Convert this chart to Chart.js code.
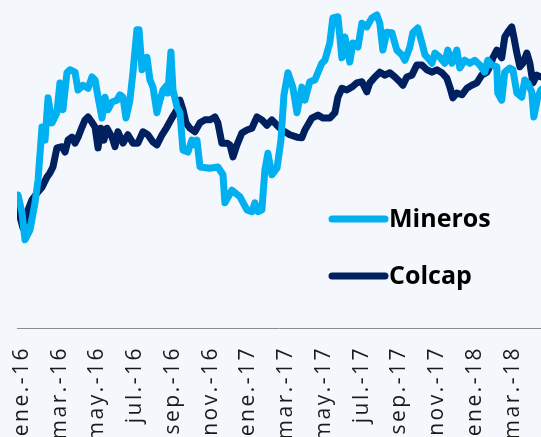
<!DOCTYPE html>
<html>
<head>
<meta charset="utf-8">
<script src="https://cdn.jsdelivr.net/npm/chart.js@4"></script>
<style>
  html, body { margin: 0; padding: 0; background: #f4f8fc; overflow: hidden; }
  #wrap { position: relative; width: 541px; height: 437px; }
</style>
</head>
<body>
<div id="wrap"><canvas id="c" width="541" height="437"></canvas></div>
<script>
// Month offsets from ene.-16 (0 = start of January 2016)
const tickMonths = [0, 2, 4, 6, 8, 10, 12, 14, 16, 18, 20, 22, 24, 26];
const tickLabels = ['ene.-16','mar.-16','may.-16','jul.-16','sep.-16','nov.-16','ene.-17','mar.-17','may.-17','jul.-17','sep.-17','nov.-17','ene.-18','mar.-18'];
const seriesNames = ['Mineros', 'Colcap'];

const minerosT = [-0.21,0,0.16,0.42,0.69,0.85,1.06,1.22,1.38,1.59,1.85,2.01,2.17,2.38,2.54,2.81,2.97,3.23,3.50,3.71,3.87,4.03,4.24,4.40,4.56,4.77,5.03,5.19,5.35,5.51,5.72,5.88,6.09,6.20,6.36,6.62,6.78,6.94,7.15,7.31,7.47,7.68,7.73,7.89,8.00,8.21,8.37,8.53,8.79,9.00,9.16,9.27,9.43,9.96,10.38,10.65,10.75,11.12,11.55,11.92,12.18,12.34,12.50,12.71,12.87,13.03,13.24,13.51,13.72,13.88,14.09,14.35,14.57,14.83,14.99,15.25,15.52,15.89,16.05,16.31,16.47,16.74,16.95,17.11,17.37,17.53,17.80,18.01,18.27,18.54,18.80,18.96,19.12,19.33,19.60,19.86,20.13,20.29,20.55,20.71,20.97,21.19,21.35,21.50,21.72,21.88,22.14,22.40,22.56,22.78,23.04,23.20,23.46,23.73,23.99,24.26,24.52,24.68,24.89,25.16,25.21,25.42,25.58,25.85,26.01,26.22,26.48,26.64,26.80,27.01,27.12,27.33,27.49,27.65];
const minerosV = [102.3,99.3,94.8,96.4,101.0,104.8,113.7,111.5,118.6,114.4,116.1,121.1,116.6,122.8,123.3,122.9,119.9,120.7,120.2,122.1,121.6,118.7,115.2,118.7,116.6,117.9,118.2,119.1,118.7,115.2,118.2,122.9,130.0,130.0,123.3,125.4,121.6,120.4,116.1,118.2,119.9,120.7,119.4,126.3,119.9,117.1,116.1,109.8,109.5,111.5,110.7,111.5,107.0,106.8,107.0,105.7,101.0,103.1,102.0,99.8,99.5,101.0,99.5,99.8,106.5,109.3,105.7,106.8,111.5,119.1,122.8,120.4,116.1,120.4,118.2,121.3,121.6,124.4,124.9,127.8,132.0,132.2,125.3,128.8,124.6,127.8,127.1,131.1,130.5,132.0,132.5,131.1,126.6,129.6,129.5,126.6,125.8,124.9,127.1,129.5,130.3,127.8,125.8,125.3,124.4,126.1,125.4,124.4,126.6,124.4,126.6,123.6,124.9,124.4,124.9,124.1,122.9,124.9,124.1,123.8,119.4,118.2,122.9,123.6,123.3,119.4,118.7,121.6,121.1,119.6,115.4,118.7,119.9,120.3];

const colcapT = [-0.21,0.05,0.32,0.53,0.79,1.06,1.32,1.48,1.64,1.85,2.12,2.28,2.44,2.65,2.81,2.97,3.18,3.34,3.50,3.71,3.87,4.03,4.18,4.34,4.50,4.77,4.93,5.08,5.35,5.61,5.88,6.14,6.41,6.67,6.94,7.15,7.42,7.68,7.94,8.21,8.37,8.53,8.69,8.90,9.16,9.43,9.69,9.96,10.22,10.38,10.59,10.86,11.02,11.18,11.39,11.65,11.92,12.18,12.45,12.71,12.98,13.24,13.51,13.77,13.93,14.19,14.57,14.83,14.99,15.36,15.68,15.94,16.31,16.58,16.74,16.95,17.21,17.48,17.74,18.01,18.27,18.43,18.70,18.96,19.23,19.49,19.76,20.02,20.18,20.39,20.66,20.92,21.19,21.45,21.72,21.98,22.25,22.51,22.67,22.83,23.04,23.31,23.57,23.83,24.10,24.36,24.63,24.79,24.95,25.16,25.42,25.58,25.74,25.95,26.06,26.22,26.38,26.54,26.75,26.91,27.07,27.28,27.49,27.65];
const colcapV = [99.8,96.8,99.8,101.5,102.6,103.6,105.3,106.0,107.0,110.2,110.4,109.5,111.5,112.0,111.0,112.0,113.7,114.9,115.4,114.5,113.7,110.2,113.5,111.5,113.5,112.0,110.4,112.9,111.0,112.4,111.0,111.0,112.9,112.4,111.2,110.7,112.4,113.7,115.2,116.6,118.2,116.6,114.4,113.5,112.9,114.4,114.9,114.9,115.4,114.4,111.0,111.0,110.7,108.7,110.7,112.7,113.2,113.5,115.4,114.9,114.0,114.9,114.0,113.2,112.9,112.4,112.0,111.9,113.2,115.2,115.7,115.2,115.2,116.1,118.7,120.2,119.9,120.4,121.1,121.3,119.6,121.1,122.1,122.9,122.4,122.8,122.1,121.3,120.7,122.1,122.4,124.1,124.1,123.3,122.9,123.3,122.8,121.9,120.4,118.6,119.4,119.1,120.2,120.7,121.1,122.4,122.9,123.8,125.3,126.6,125.3,128.8,129.6,130.5,128.8,126.1,123.8,124.4,126.1,124.4,121.1,122.4,122.1,122.3];

const colors = ['#00b0f0', '#002060'];

function pts(t, v) { return t.map((x, i) => ({ x: x, y: v[i] })); }

const spacingPlugin = {
  id: 'tickSpacing',
  beforeDraw(chart) { chart.ctx.letterSpacing = '2.5px'; }
};

const legendPlugin = {
  id: 'insideLegend',
  afterDraw(chart) {
    const ctx = chart.ctx;
    ctx.letterSpacing = '0px';
    const items = [{ y: 219 }, { y: 276 }];
    ctx.save();
    chart.data.datasets.forEach((ds, i) => {
      const y = items[i].y;
      ctx.strokeStyle = ds.borderColor;
      ctx.lineWidth = 7;
      ctx.lineCap = 'round';
      ctx.beginPath();
      ctx.moveTo(332, y);
      ctx.lineTo(385, y);
      ctx.stroke();
      ctx.fillStyle = '#000000';
      ctx.font = 'bold 25px "Open Sans"';
      ctx.textBaseline = 'middle';
      ctx.textAlign = 'left';
      ctx.fillText(ds.label, 389, y + 1);
    });
    ctx.restore();
  }
};

new Chart(document.getElementById('c'), {
  type: 'line',
  data: {
    datasets: [
      { label: seriesNames[0], data: pts(minerosT, minerosV), borderColor: colors[0], backgroundColor: colors[0] },
      { label: seriesNames[1], data: pts(colcapT, colcapV), borderColor: colors[1], backgroundColor: colors[1] }
    ]
  },
  options: {
    responsive: false,
    animation: false,
    layout: { padding: { left: 17, right: 0, top: 0, bottom: 0 } },
    elements: {
      point: { radius: 0 },
      line: { borderWidth: 7, tension: 0, borderCapStyle: 'round', borderJoinStyle: 'round' }
    },
    plugins: { legend: { display: false }, tooltip: { enabled: false } },
    scales: {
      x: {
        type: 'linear',
        min: -0.265,
        max: 27.5,
        grid: { display: false, drawTicks: false },
        border: { display: true, color: '#8c8c8c', width: 1 },
        afterBuildTicks(scale) { scale.ticks = tickMonths.map(v => ({ value: v })); },
        afterFit(scale) { scale.height = 109; scale.paddingLeft = 0; scale.paddingRight = 0; },
        ticks: {
          autoSkip: false,
          minRotation: 90,
          maxRotation: 90,
          padding: 18,
          color: '#1a1a1a',
          font: { family: '"Open Sans"', size: 21 },
          callback(value) { const i = tickMonths.indexOf(value); return i >= 0 ? tickLabels[i] : ''; }
        }
      },
      y: { display: false, min: 80, max: 135 }
    }
  },
  plugins: [spacingPlugin, legendPlugin]
});
</script>
</body>
</html>
